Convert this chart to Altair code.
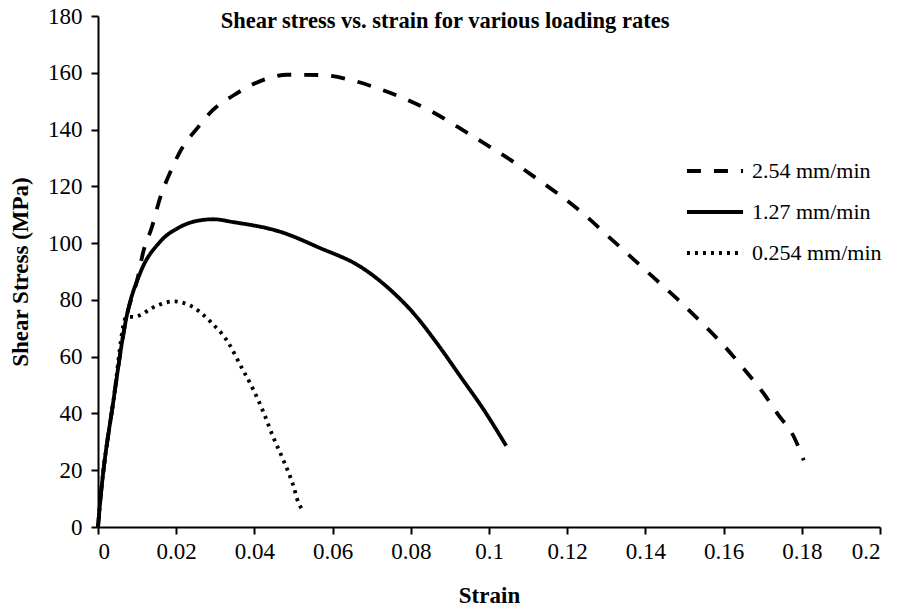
import altair as alt
import pandas as pd

# 2.54 mm/min (dashed)
x_254 = [0, 0.0005, 0.004, 0.0073, 0.0102, 0.0115, 0.0138, 0.0159, 0.0184, 0.0215, 0.0254, 0.0294,
         0.0346, 0.0423, 0.0484, 0.0568, 0.0645, 0.0714, 0.0791, 0.0858, 0.0919, 0.0986, 0.1055,
         0.1114, 0.118, 0.124, 0.13, 0.136, 0.142, 0.148, 0.154, 0.16, 0.165, 0.17,
         0.174, 0.178, 0.1805]
y_254 = [0, 8, 45, 74, 88, 96.5, 105.7, 116, 124.7, 133.5, 140.5, 146.9,
         152, 157.5, 159.3, 159.2, 157.5, 154.6, 150.5, 146, 141, 135.3, 129.3,
         123.5, 117, 110.5, 103, 95.5, 88, 80.5, 72.5, 64, 56, 47.5,
         39.5, 31.7, 23.5]

# 1.27 mm/min (solid)
x_127 = [0, 0.0005, 0.004, 0.0073, 0.0108, 0.0159, 0.021, 0.026, 0.0295, 0.0346, 0.0466,
         0.0569, 0.0671, 0.0748, 0.0807, 0.0867, 0.0927, 0.0987, 0.1044]
y_127 = [0, 8, 45, 74, 89.5, 100.5, 105.7, 108, 108.4, 107.4, 104.0,
         98.2, 91.7, 83.5, 75.3, 64.7, 53.0, 41.2, 28.6]

# 0.254 mm/min (dotted)
x_0254 = [0, 0.0005, 0.004, 0.0073, 0.009, 0.0151, 0.0193, 0.0236, 0.029, 0.0333, 0.0364,
          0.0395, 0.0423, 0.0448, 0.0474, 0.0499, 0.0512, 0.0523]
y_0254 = [0, 8, 45, 74, 74, 78, 79.5, 78, 72, 65, 57,
          49, 40.5, 31.7, 23.6, 14.8, 8.8, 6.0]

rates = ["2.54 mm/min", "1.27 mm/min", "0.254 mm/min"]
x_ticks = [0, 0.02, 0.04, 0.06, 0.08, 0.1, 0.12, 0.14, 0.16, 0.18, 0.2]
y_ticks = [0, 20, 40, 60, 80, 100, 120, 140, 160, 180]

rows = []
for name, xs, ys in zip(rates, [x_254, x_127, x_0254], [y_254, y_127, y_0254]):
    for i, (a, b) in enumerate(zip(xs, ys)):
        rows.append({"rate": name, "strain": a, "stress": b, "i": i})
df = pd.DataFrame(rows)

FONT = "Liberation Serif"

chart = alt.Chart(df).mark_line(
    color="black", strokeWidth=3.8, interpolate="monotone"
).encode(
    x=alt.X("strain:Q", scale=alt.Scale(domain=[0, 0.2], nice=False, zero=False),
            axis=alt.Axis(values=x_ticks, format="~g", title="Strain", grid=False,
                          titleY=75, titleBaseline="alphabetic")),
    y=alt.Y("stress:Q", scale=alt.Scale(domain=[0, 180], nice=False),
            axis=alt.Axis(values=y_ticks, title="Shear Stress (MPa)", grid=False,
                          titleX=-71, titleBaseline="alphabetic")),
    strokeDash=alt.StrokeDash("rate:N",
                              scale=alt.Scale(domain=rates, range=[[14, 13], [1, 0], [3, 5]]),
                              legend=alt.Legend(title=None, orient="none", legendX=587, legendY=125,
                                                symbolType="stroke", symbolSize=3150,
                                                symbolStrokeWidth=3.8, symbolStrokeColor="black",
                                                labelFont=FONT, labelFontSize=22, labelColor="black",
                                                labelOffset=7, rowPadding=0)),
    order="i:Q",
).properties(
    width=782, height=511,
    title=alt.TitleParams("Shear stress vs. strain for various loading rates", font=FONT,
                          fontSize=22.5, fontWeight="bold", color="black", anchor="middle",
                          dx=-44, offset=-32, dy=13, baseline="alphabetic"),
    autosize=alt.AutoSizeParams(type="none"),
    padding={"left": 98, "top": 16, "right": 21, "bottom": 79},
).configure_view(stroke=None).configure_axis(
    domainColor="black", domainWidth=2, tickColor="black", tickWidth=2, tickSize=7,
    labelFont=FONT, labelFontSize=23, labelColor="black", labelPadding=9,
    titleFont=FONT, titleFontSize=23, titleFontWeight="bold", titleColor="black",
).configure_axisX(labelPadding=6)

chart.save("out.html", embed_options={"renderer": "svg", "actions": False})
